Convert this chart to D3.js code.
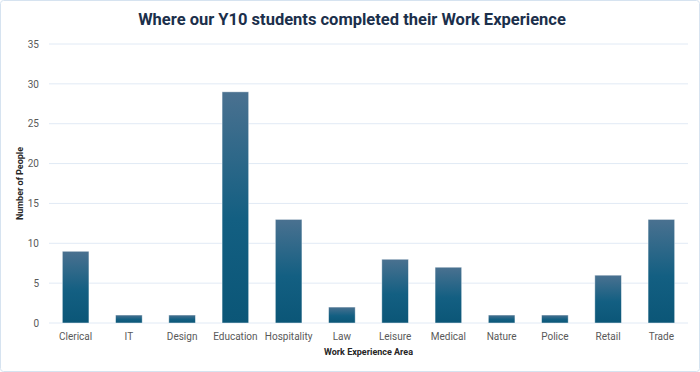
<!DOCTYPE html>
<html lang="en">
<head>
<meta charset="UTF-8">
<title>Work Experience</title>
<script src="https://d3js.org/d3.v7.min.js"></script>
<style>
	body { margin: 0; background: #fff; }
	text { font-family: Roboto, "Open Sans", sans-serif; }
</style>
</head>
<body>
<div id="main"></div>
<script>
	var categories = ["Clerical", "IT", "Design", "Education", "Hospitality", "Law", "Leisure", "Medical", "Nature", "Police", "Retail", "Trade"];
	var people = [9, 1, 1, 29, 13, 2, 8, 7, 1, 1, 6, 13];
	var yTicks = [0, 5, 10, 15, 20, 25, 30, 35];

	var W = 700, H = 372;
	var margin = {top: 44, right: 12, bottom: 49, left: 49};

	var svg = d3.select("#main").append("svg")
		.attr("width", W)
		.attr("height", H);

	// gradient for bars
	var grad = svg.append("defs").append("linearGradient")
		.attr("id", "barGrad")
		.attr("x1", 0).attr("y1", 0).attr("x2", 0).attr("y2", 1);
	grad.append("stop").attr("offset", "0%").attr("stop-color", "#4a7190");
	grad.append("stop").attr("offset", "55%").attr("stop-color", "#135f82");
	grad.append("stop").attr("offset", "100%").attr("stop-color", "#0b5677");

	// outer border
	svg.append("rect")
		.attr("x", 0.5).attr("y", 0.5)
		.attr("width", W - 1).attr("height", H - 1)
		.attr("rx", 3)
		.attr("fill", "#fff")
		.attr("stroke", "#d6e3f0");

	var x = d3.scaleBand()
		.domain(categories)
		.range([margin.left, W - margin.right])
		.paddingInner(0.5)
		.paddingOuter(0.25);

	var y = d3.scaleLinear()
		.domain([0, 35])
		.range([H - margin.bottom, margin.top]);

	// gridlines
	svg.append("g")
		.selectAll("line")
		.data(yTicks)
		.enter()
		.append("line")
		.attr("x1", margin.left)
		.attr("x2", W - margin.right)
		.attr("y1", function(d){ return y(d); })
		.attr("y2", function(d){ return y(d); })
		.attr("stroke", "#e1eaf5")
		.attr("stroke-width", 1);

	// y axis labels
	var yAxis = svg.append("g")
		.attr("transform", "translate(" + margin.left + ",0)")
		.call(d3.axisLeft(y).tickValues(yTicks).tickSize(0).tickPadding(10));
	yAxis.select(".domain").remove();
	yAxis.selectAll("text")
		.attr("fill", "#595959")
		.style("font-size", "10px");

	// bars
	svg.append("g")
		.selectAll("rect")
		.data(people)
		.enter()
		.append("rect")
		.attr("x", function(d, i){ return x(categories[i]); })
		.attr("y", function(d){ return y(d); })
		.attr("width", x.bandwidth())
		.attr("height", function(d){ return y(0) - y(d); })
		.attr("fill", "url(#barGrad)")
		.attr("stroke", "#ffffff")
		.attr("stroke-opacity", 0.6)
		.attr("stroke-width", 0.75);

	// x axis labels
	var xAxis = svg.append("g")
		.attr("transform", "translate(0," + (H - margin.bottom) + ")")
		.call(d3.axisBottom(x).tickSize(0).tickPadding(10));
	xAxis.select(".domain").remove();
	xAxis.selectAll("text")
		.attr("fill", "#595959")
		.style("font-size", "10px");

	// title
	svg.append("text")
		.attr("x", W / 2 + 2)
		.attr("y", 25)
		.attr("text-anchor", "middle")
		.attr("fill", "#1b2f4b")
		.style("font-size", "16.5px")
		.style("font-weight", "bold")
		.text("Where our Y10 students completed their Work Experience");

	// axis titles
	svg.append("text")
		.attr("x", (margin.left + W - margin.right) / 2)
		.attr("y", 355)
		.attr("text-anchor", "middle")
		.attr("fill", "#262626")
		.style("font-size", "9px")
		.style("font-weight", "bold")
		.text("Work Experience Area");

	svg.append("text")
		.attr("transform", "translate(23," + ((margin.top + H - margin.bottom) / 2) + ") rotate(-90)")
		.attr("text-anchor", "middle")
		.attr("fill", "#262626")
		.style("font-size", "9px")
		.style("font-weight", "bold")
		.text("Number of People");
</script>
</body>
</html>
